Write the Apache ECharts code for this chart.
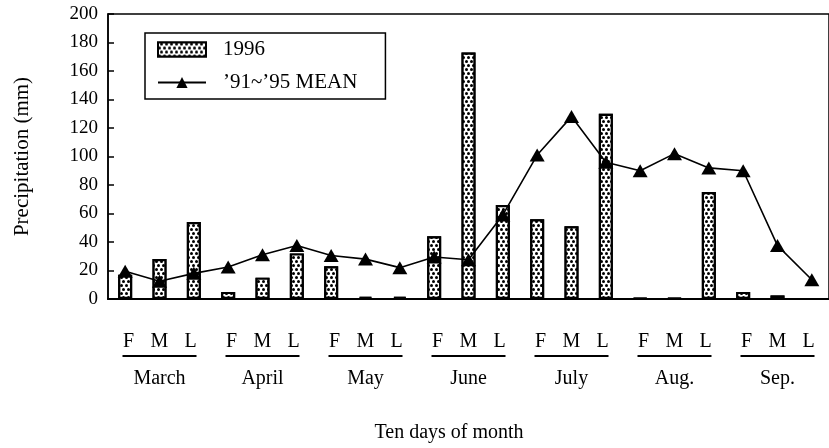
<!DOCTYPE html>
<html>
<head>
<meta charset="utf-8">
<script src="https://cdn.jsdelivr.net/npm/echarts@6/dist/echarts.min.js"></script>
<style>
html,body{margin:0;padding:0;background:#fff;}
#chart{width:829px;height:448px;}
</style>
</head>
<body>
<div id="chart"></div>
<script>
// ---- data ----
const months = ['March', 'April', 'May', 'June', 'July', 'Aug.', 'Sep.'];
const subLabels = ['F', 'M', 'L'];
const categories = months.flatMap(m => subLabels.map(s => m + ' ' + s));
const precip1996 = [17, 28, 54, 5, 15, 32, 23, 1.5, 1.5, 44, 173, 66, 56, 51, 130, 0.5, 0.5, 75, 5, 2.5, 0];
const mean9195 = [19.5, 12.5, 18, 22.5, 31, 37.5, 30.5, 28, 22, 29.5, 27.5, 59, 101, 128, 96, 90, 102, 92, 90, 37.5, 13.5];
const yMin = 0, yMax = 200, yStep = 20;
const seriesNames = ['1996', '\u201991~\u201995 MEAN'];
const yTitle = 'Precipitation (mm)';
const xTitle = 'Ten days of month';

const FONT = "'Liberation Serif', 'Times New Roman', serif";
const chart = echarts.init(document.getElementById('chart'), null, {renderer: 'canvas'});

const option = {
  animation: false,
  backgroundColor: '#fff',
  textStyle: {fontFamily: FONT, color: '#000'},
  grid: [{
    left: 108, top: 14, width: 726, height: 285.5,
    show: true, borderColor: '#000', borderWidth: 1.5, backgroundColor: 'transparent'
  }],
  legend: {
    left: 145, top: 33, orient: 'vertical',
    borderColor: '#000', borderWidth: 1.5,
    padding: [6, 28, 6, 12],
    itemWidth: 48, itemHeight: 14, itemGap: 12,
    textStyle: {fontFamily: FONT, fontSize: 21, color: '#000', padding: [0, 0, 0, 12]},
    data: [{name: seriesNames[0], icon: 'rect'}, {name: seriesNames[1]}]
  },
  xAxis: [{
    type: 'category', data: categories, gridIndex: 0,
    axisLine: {lineStyle: {color: '#000', width: 2}},
    axisTick: {inside: true, length: 6, lineStyle: {color: '#000', width: 2}},
    axisLabel: {show: false},
    splitLine: {show: false}
  }, {
    type: 'category', data: months, gridIndex: 0, position: 'bottom',
    axisLine: {show: false}, axisTick: {show: false}, splitLine: {show: false},
    axisLabel: {
      margin: 29, interval: 0,
      formatter: m => subLabels.map(s => '{a|' + s + '}').join('') + '\n{u| }\n{m|' + m + '}',
      rich: {
        a: {fontFamily: FONT, fontSize: 20, color: '#000', width: 31, align: 'center', lineHeight: 27},
        u: {width: 74, height: 2, lineHeight: 2, fontSize: 2, backgroundColor: '#000'},
        m: {fontFamily: FONT, fontSize: 20, color: '#000', lineHeight: 43}
      }
    },
    name: xTitle, nameLocation: 'middle', nameGap: 124,
    nameTextStyle: {fontFamily: FONT, fontSize: 20, color: '#000', padding: [0, 39, 0, 0]}
  }],
  yAxis: [{
    type: 'value', gridIndex: 0, min: yMin, max: yMax, interval: yStep,
    axisLine: {show: true, lineStyle: {color: '#000', width: 1.5}},
    axisTick: {show: true, inside: true, length: 6, lineStyle: {color: '#000', width: 1.5}},
    axisLabel: {fontFamily: FONT, fontSize: 19, color: '#000', margin: 10},
    splitLine: {show: false},
    name: yTitle, nameLocation: 'middle', nameGap: 75,
    nameTextStyle: {fontFamily: FONT, fontSize: 21, color: '#000'}
  }],
  series: [{
    name: seriesNames[0], type: 'bar', xAxisIndex: 0, yAxisIndex: 0,
    data: precip1996, barWidth: 14,
    itemStyle: {
      color: '#fff', borderColor: '#000', borderWidth: 2.2,
      decal: {
        symbol: 'circle', symbolSize: 1, color: '#000', backgroundColor: '#fff',
        dashArrayX: [[2.2, 1.6], [0, 1.9, 2.2, -0.3]], dashArrayY: [2.2, 0.6]
      }
    },
    z: 2
  }, {
    name: seriesNames[1], type: 'line', xAxisIndex: 0, yAxisIndex: 0,
    data: mean9195, symbol: 'triangle', symbolSize: [15, 13],
    itemStyle: {color: '#000'},
    lineStyle: {color: '#000', width: 1.6},
    z: 3
  }]
};
chart.setOption(option);
</script>
</body>
</html>
